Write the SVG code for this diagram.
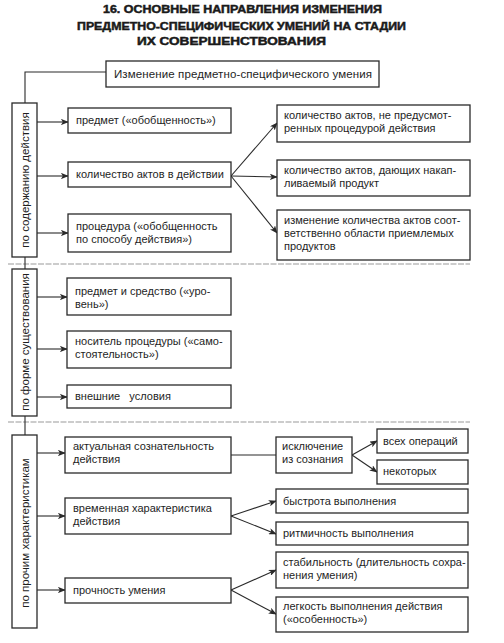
<svg xmlns="http://www.w3.org/2000/svg" width="504" height="643" viewBox="0 0 504 643">
<defs>
<style>
.bg{fill:#fff}
.box{fill:#fff;stroke:#2a2a2a;stroke-width:1.3}
.t{font-family:"Liberation Sans",Arial,sans-serif;font-size:11px;fill:#1e1e1e}
.v{font-family:"Liberation Sans",Arial,sans-serif;font-size:11.5px;fill:#1e1e1e;text-anchor:middle}
.h{font-family:"Liberation Sans",Arial,sans-serif;font-size:11.5px;font-weight:bold;fill:#1a1a1a;stroke:#1a1a1a;stroke-width:0.5}
.ln{fill:none;stroke:#2a2a2a;stroke-width:1.1}
.ar{fill:none;stroke:#2a2a2a;stroke-width:1.1;marker-end:url(#arr)}
.sep{fill:none;stroke:#9a9a9a;stroke-width:1.2;stroke-dasharray:6 1.5}
</style>
<marker id="arr" viewBox="0 0 10 8" refX="9" refY="4" markerWidth="8" markerHeight="6.4" markerUnits="userSpaceOnUse" orient="auto">
<path d="M0,0 L10,4 L0,8 L2.5,4 z" fill="#2a2a2a"/>
</marker>
</defs>
<rect class="bg" x="0" y="0" width="504" height="643"/>

<g id="title">
<text class="h" x="103" y="12.5" textLength="279" lengthAdjust="spacingAndGlyphs">16. ОСНОВНЫЕ НАПРАВЛЕНИЯ ИЗМЕНЕНИЯ</text>
<text class="h" x="77" y="29.5" textLength="329" lengthAdjust="spacingAndGlyphs">ПРЕДМЕТНО-СПЕЦИФИЧЕСКИХ УМЕНИЙ НА СТАДИИ</text>
<text class="h" x="137" y="45" textLength="189" lengthAdjust="spacingAndGlyphs">ИХ СОВЕРШЕНСТВОВАНИЯ</text>
</g>

<g id="separators">
<line class="sep" x1="8" y1="264" x2="470" y2="264"/>
<line class="sep" x1="8" y1="422" x2="470" y2="422"/>
</g>

<g id="connectors">
<polyline class="ln" points="106,72 25,72 25,435"/>
<line class="ar" x1="37" y1="122" x2="68" y2="122"/>
<line class="ar" x1="37" y1="176" x2="68" y2="176"/>
<line class="ar" x1="37" y1="233" x2="68" y2="233"/>
<line class="ar" x1="37" y1="297" x2="67" y2="297"/>
<line class="ar" x1="37" y1="349" x2="67" y2="349"/>
<line class="ar" x1="37" y1="397" x2="67" y2="397"/>
<line class="ar" x1="37" y1="453" x2="65" y2="453"/>
<line class="ar" x1="37" y1="516" x2="65" y2="516"/>
<line class="ar" x1="37" y1="590" x2="65" y2="590"/>
<line class="ar" x1="231" y1="176" x2="277" y2="123"/>
<line class="ar" x1="231" y1="176" x2="277" y2="177"/>
<line class="ar" x1="231" y1="176" x2="277" y2="233"/>
<line class="ln" x1="231" y1="455" x2="276" y2="455"/>
<line class="ar" x1="352" y1="455" x2="377" y2="441"/>
<line class="ar" x1="352" y1="455" x2="377" y2="472"/>
<line class="ar" x1="231" y1="516" x2="276" y2="501"/>
<line class="ar" x1="231" y1="516" x2="276" y2="534"/>
<line class="ar" x1="231" y1="590" x2="276" y2="570"/>
<line class="ar" x1="231" y1="590" x2="276" y2="614"/>
</g>

<g id="root">
<rect class="box" x="106" y="61" width="273" height="26"/>
<text class="t" x="114" y="78" textLength="258" style="font-size:11.5px">Изменение  предметно-специфического  умения</text>
</g>

<g id="cat1">
<rect class="box" x="12" y="103" width="25" height="154"/>
<text class="v" transform="translate(28.5,180) rotate(-90)">по содержанию действия</text>
</g>
<g id="cat2">
<rect class="box" x="12" y="269" width="25" height="147"/>
<text class="v" transform="translate(28.5,342) rotate(-90)">по форме существования</text>
</g>
<g id="cat3">
<rect class="box" x="12" y="435" width="25" height="193"/>
<text class="v" transform="translate(28.5,533) rotate(-90)">по прочим характеристикам</text>
</g>

<g id="n1">
<rect class="box" x="68" y="108" width="163" height="25"/>
<text class="t" x="76" y="124">предмет («обобщенность»)</text>
</g>
<g id="n2">
<rect class="box" x="68" y="162" width="163" height="25"/>
<text class="t" x="76" y="178">количество актов в действии</text>
</g>
<g id="n3">
<rect class="box" x="68" y="214" width="163" height="38"/>
<text class="t" x="76" y="230">процедура («обобщенность</text>
<text class="t" x="76" y="243">по способу действия»)</text>
</g>

<g id="r1">
<rect class="box" x="277" y="105" width="193" height="37"/>
<text class="t" x="284" y="119">количество актов, не предусмот-</text>
<text class="t" x="284" y="132">ренных процедурой действия</text>
</g>
<g id="r2">
<rect class="box" x="277" y="160" width="193" height="36"/>
<text class="t" x="284" y="174">количество актов, дающих накап-</text>
<text class="t" x="284" y="187">ливаемый продукт</text>
</g>
<g id="r3">
<rect class="box" x="277" y="210" width="193" height="50"/>
<text class="t" x="284" y="224">изменение количества актов соот-</text>
<text class="t" x="284" y="237">ветственно области приемлемых</text>
<text class="t" x="284" y="250">продуктов</text>
</g>

<g id="f1">
<rect class="box" x="67" y="278" width="164" height="37"/>
<text class="t" x="75" y="295">предмет и средство («уро-</text>
<text class="t" x="75" y="308">вень»)</text>
</g>
<g id="f2">
<rect class="box" x="67" y="331" width="164" height="37"/>
<text class="t" x="75" y="345">носитель процедуры («само-</text>
<text class="t" x="75" y="358">стоятельность»)</text>
</g>
<g id="f3">
<rect class="box" x="67" y="385" width="164" height="23"/>
<text class="t" x="75" y="400" xml:space="preserve">внешние   условия</text>
</g>

<g id="c1">
<rect class="box" x="65" y="437" width="166" height="36"/>
<text class="t" x="73" y="450">актуальная сознательность</text>
<text class="t" x="73" y="463">действия</text>
</g>
<g id="c2">
<rect class="box" x="65" y="498" width="166" height="36"/>
<text class="t" x="73" y="512">временная характеристика</text>
<text class="t" x="73" y="525">действия</text>
</g>
<g id="c3">
<rect class="box" x="65" y="578" width="166" height="25"/>
<text class="t" x="73" y="594">прочность умения</text>
</g>

<g id="e">
<rect class="box" x="276" y="437" width="76" height="36"/>
<text class="t" x="282" y="450">исключение</text>
<text class="t" x="282" y="463">из сознания</text>
</g>
<g id="e1">
<rect class="box" x="377" y="429" width="91" height="24"/>
<text class="t" x="383" y="445">всех операций</text>
</g>
<g id="e2">
<rect class="box" x="377" y="460" width="91" height="24"/>
<text class="t" x="383" y="475">некоторых</text>
</g>

<g id="t1">
<rect class="box" x="276" y="489" width="192" height="24"/>
<text class="t" x="283" y="505">быстрота выполнения</text>
</g>
<g id="t2">
<rect class="box" x="276" y="522" width="192" height="23"/>
<text class="t" x="283" y="537">ритмичность выполнения</text>
</g>

<g id="p1">
<rect class="box" x="276" y="552" width="192" height="36"/>
<text class="t" x="283" y="566">стабильность (длительность сохра-</text>
<text class="t" x="283" y="579">нения умения)</text>
</g>
<g id="p2">
<rect class="box" x="276" y="597" width="192" height="35"/>
<text class="t" x="283" y="610">легкость выполнения действия</text>
<text class="t" x="283" y="623">(«особенность»)</text>
</g>
</svg>
